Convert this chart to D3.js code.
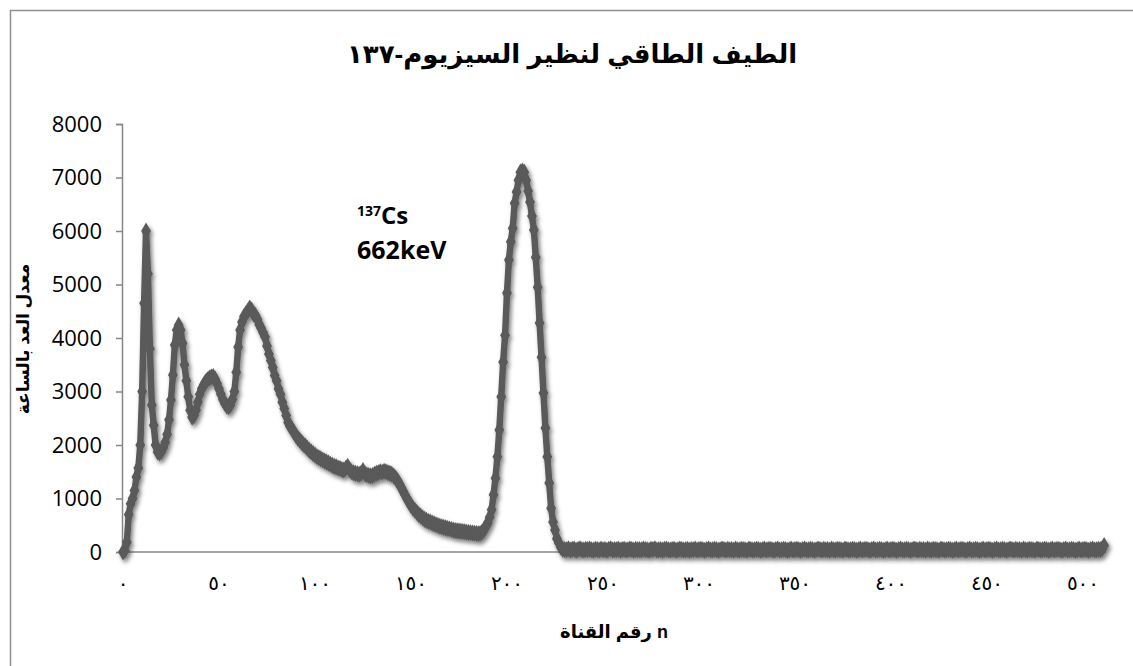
<!DOCTYPE html>
<html>
<head>
<meta charset="utf-8">
<script src="https://cdn.jsdelivr.net/npm/d3@7"></script>
<style>
  body { margin: 0; background: #fff; }
  svg { display: block; }
</style>
</head>
<body>
<div id="chart"></div>
<script>
// Chart texts
const chartTitle = "الطيف الطاقي لنظير السيزيوم-١٣٧";
const yTitle = "معدل العد بالساعة";
const xTitle = "رقم القناة n";

// Tick values and labels
const yTicks = [0, 1000, 2000, 3000, 4000, 5000, 6000, 7000, 8000];
const xTicks = [0, 50, 100, 150, 200, 250, 300, 350, 400, 450, 500];
const xTickLabels = ["٠", "٥٠", "١٠٠", "١٥٠", "٢٠٠", "٢٥٠", "٣٠٠", "٣٥٠", "٤٠٠", "٤٥٠", "٥٠٠"];

// Counts per hour, one value per channel (channel 0 .. 511)
const counts = [
  0, 30, 180, 700, 900, 1000, 1150, 1400, 1570, 2000, 3000, 4650, 6000, 5200, 3800, 2750, 2370, 2000, 1870, 1850,
  1880, 1950, 2050, 2200, 2470, 2840, 3310, 3870, 4150, 4240, 4150, 3900, 3500, 3200, 2900, 2650, 2520, 2550, 2650, 2800,
  2950, 3050, 3120, 3180, 3220, 3250, 3270, 3280, 3230, 3150, 3050, 2950, 2850, 2780, 2730, 2710, 2750, 2850, 3000, 3360,
  3830, 4150, 4300, 4400, 4450, 4500, 4560, 4520, 4450, 4420, 4350, 4250, 4180, 4100, 4020, 3850, 3700, 3580, 3450, 3300,
  3200, 3050, 2950, 2800, 2680, 2550, 2420, 2350, 2300, 2240, 2180, 2130, 2090, 2050, 2010, 1980, 1940, 1900, 1870, 1840,
  1810, 1780, 1760, 1740, 1720, 1700, 1680, 1660, 1640, 1620, 1600, 1590, 1570, 1560, 1540, 1530, 1560, 1600, 1540, 1500,
  1480, 1470, 1460, 1450, 1470, 1520, 1460, 1440, 1430, 1420, 1430, 1450, 1470, 1480, 1500, 1490, 1510, 1500, 1480, 1470,
  1450, 1420, 1380, 1330, 1270, 1200, 1130, 1060, 990, 930, 870, 820, 780, 740, 700, 670, 640, 610, 590, 570,
  560, 540, 525, 510, 495, 480, 470, 460, 450, 440, 430, 420, 410, 400, 395, 390, 385, 380, 375, 370,
  365, 360, 355, 350, 345, 340, 345, 370, 410, 480, 540, 650, 790, 1070, 1380, 1780, 2280, 2900, 3550, 4050,
  4840, 5460, 5800, 6050, 6520, 6730, 6950, 7100, 7120, 7100, 6950, 6750, 6540, 6280, 6020, 5510, 4950, 4280, 3640, 2970,
  2320, 1780, 1290, 820, 560, 410, 250, 170, 90, 50,
  45, 40, 60, 35, 50, 55, 30, 45, 60, 40, 35, 50, 45, 55, 40, 30, 50, 45, 35, 55,
  40, 45, 30, 50, 60, 35, 45, 40, 55, 30, 45, 50, 35, 40, 55, 45, 30, 50, 40, 45,
  35, 55, 45, 40, 30, 50, 45, 60, 35, 40, 45, 30, 50, 55, 40, 35, 45, 50, 30, 40,
  55, 45, 35, 40, 50, 30, 45, 40, 55, 35, 45, 50, 40, 30, 45, 55, 35, 40, 50, 45,
  30, 40, 55, 45, 35, 50, 40, 45, 30, 55, 40, 35, 50, 45, 40, 30, 55, 45, 35, 40,
  50, 45, 30, 40, 55, 35, 45, 50, 40, 30, 45, 55, 35, 40, 50, 45, 30, 40, 55, 35,
  45, 50, 40, 30, 45, 55, 35, 40, 50, 45, 30, 40, 55, 45, 35, 50, 40, 45, 30, 55,
  40, 35, 50, 45, 40, 30, 55, 45, 35, 40, 50, 45, 30, 40, 55, 35, 45, 50, 40, 30,
  45, 55, 35, 40, 50, 45, 30, 40, 55, 35, 45, 50, 40, 30, 45, 55, 35, 40, 50, 45,
  30, 40, 55, 45, 35, 50, 40, 45, 30, 55, 40, 35, 50, 45, 40, 30, 55, 45, 35, 40,
  50, 45, 30, 40, 55, 35, 45, 50, 40, 30, 45, 55, 35, 40, 50, 45, 30, 40, 55, 35,
  45, 50, 40, 30, 45, 55, 35, 40, 50, 45, 30, 40, 55, 45, 35, 50, 40, 45, 30, 55,
  40, 35, 50, 45, 40, 30, 55, 45, 35, 40, 50, 45, 30, 40, 55, 35, 45, 50, 40, 30,
  45, 55, 35, 40, 50, 45, 30, 40, 55, 35, 45, 50, 40, 30, 45, 55, 35, 40, 50, 45,
  60, 120
];
const channels = counts.map((d, i) => i);

const svgWidth = 1133;
const svgHeight = 666;
const margin = { top: 124, right: 27, bottom: 114, left: 123 };

const svg = d3.select("#chart")
    .append("svg")
    .attr("width", svgWidth)
    .attr("height", svgHeight);

svg.append("rect")
    .attr("width", svgWidth)
    .attr("height", svgHeight)
    .attr("fill", "#fff");

// chart area border (only top and left edges fall inside the picture)
svg.append("rect")
    .attr("x", 10.5)
    .attr("y", 10.5)
    .attr("width", svgWidth)
    .attr("height", svgHeight)
    .attr("fill", "none")
    .attr("stroke", "#8e8e8e")
    .attr("stroke-width", 1.5);

// drop shadow like the spreadsheet style
const defs = svg.append("defs");
defs.append("filter")
    .attr("id", "shadow")
    .attr("x", "-5%").attr("y", "-10%")
    .attr("width", "110%").attr("height", "125%")
  .append("feDropShadow")
    .attr("dx", 2).attr("dy", 3)
    .attr("stdDeviation", 2)
    .attr("flood-color", "#000")
    .attr("flood-opacity", 0.5);

const x = d3.scaleLinear()
    .domain([0, 500])
    .range([margin.left, margin.left + 960]);

const y = d3.scaleLinear()
    .domain([0, 8000])
    .range([svgHeight - margin.bottom, margin.top]);

const axisColor = "#868686";

// y axis
const yAxis = svg.append("g")
    .attr("transform", `translate(${margin.left - 1},0)`)
    .call(d3.axisLeft(y).tickValues(yTicks).tickSize(6).tickPadding(14).tickFormat(d => d));
yAxis.select(".domain").attr("stroke", axisColor).attr("stroke-width", 1.5);
yAxis.selectAll(".tick line").attr("stroke", axisColor).attr("stroke-width", 1.5);
yAxis.selectAll(".tick text")
    .attr("fill", "#000")
    .style("font-family", "'Open Sans', 'Liberation Sans', sans-serif")
    .style("font-size", "22px");

// x axis (crosses at 0, labels below the plot)
svg.append("line")
    .attr("x1", margin.left - 1)
    .attr("x2", x(512))
    .attr("y1", y(0))
    .attr("y2", y(0))
    .attr("stroke", axisColor)
    .attr("stroke-width", 1.5);

svg.append("g")
    .selectAll("text")
    .data(xTicks)
    .enter()
    .append("text")
    .attr("x", d => x(d))
    .attr("y", 590)
    .attr("text-anchor", "middle")
    .style("font-family", "'DejaVu Sans', sans-serif")
    .style("font-size", "20px")
    .style("letter-spacing", "2px")
    .text((d, i) => xTickLabels[i]);

// series: thick line with diamond markers
const series = svg.append("g").attr("filter", "url(#shadow)");
const lineColor = "#5a5a5a";

const line = d3.line()
    .x(d => x(d))
    .y((d, i) => y(counts[i]));

series.append("path")
    .datum(channels)
    .attr("d", line)
    .attr("fill", "none")
    .attr("stroke", lineColor)
    .attr("stroke-width", 6.5)
    .attr("stroke-linejoin", "round");

series.selectAll(".marker")
    .data(channels)
    .enter()
    .append("path")
    .attr("class", "marker")
    .attr("d", d3.symbol(d3.symbolDiamond).size(85))
    .attr("transform", d => `translate(${x(d)},${y(counts[d])})`)
    .attr("fill", lineColor);

// titles
svg.append("text")
    .attr("x", 572)
    .attr("y", 63)
    .attr("text-anchor", "middle")
    .attr("direction", "rtl")
    .style("font-family", "'Liberation Sans', 'DejaVu Sans', sans-serif")
    .style("font-weight", "bold")
    .style("font-size", "26px")
    .text(chartTitle);

svg.append("text")
    .attr("transform", "translate(29,339) rotate(-90)")
    .attr("text-anchor", "middle")
    .attr("direction", "rtl")
    .style("font-family", "'Liberation Sans', 'DejaVu Sans', sans-serif")
    .style("font-weight", "bold")
    .style("font-size", "17px")
    .text(yTitle);

svg.append("text")
    .attr("x", 614)
    .attr("y", 638)
    .attr("text-anchor", "middle")
    .style("font-family", "'Liberation Sans', 'DejaVu Sans', sans-serif")
    .style("font-weight", "bold")
    .style("font-size", "18px")
    .text(xTitle);

// annotation
const note = svg.append("g")
    .style("font-family", "'Open Sans', 'Liberation Sans', sans-serif")
    .style("font-weight", "bold")
    .attr("fill", "#000");

const iso = note.append("text")
    .attr("x", 357)
    .attr("y", 224);
iso.append("tspan")
    .attr("font-size", "14px")
    .attr("dy", "-8")
    .text("137");
iso.append("tspan")
    .attr("font-size", "24px")
    .attr("dy", "8")
    .text("Cs");

note.append("text")
    .attr("x", 357)
    .attr("y", 259)
    .attr("font-size", "25px")
    .text("662keV");
</script>
</body>
</html>
